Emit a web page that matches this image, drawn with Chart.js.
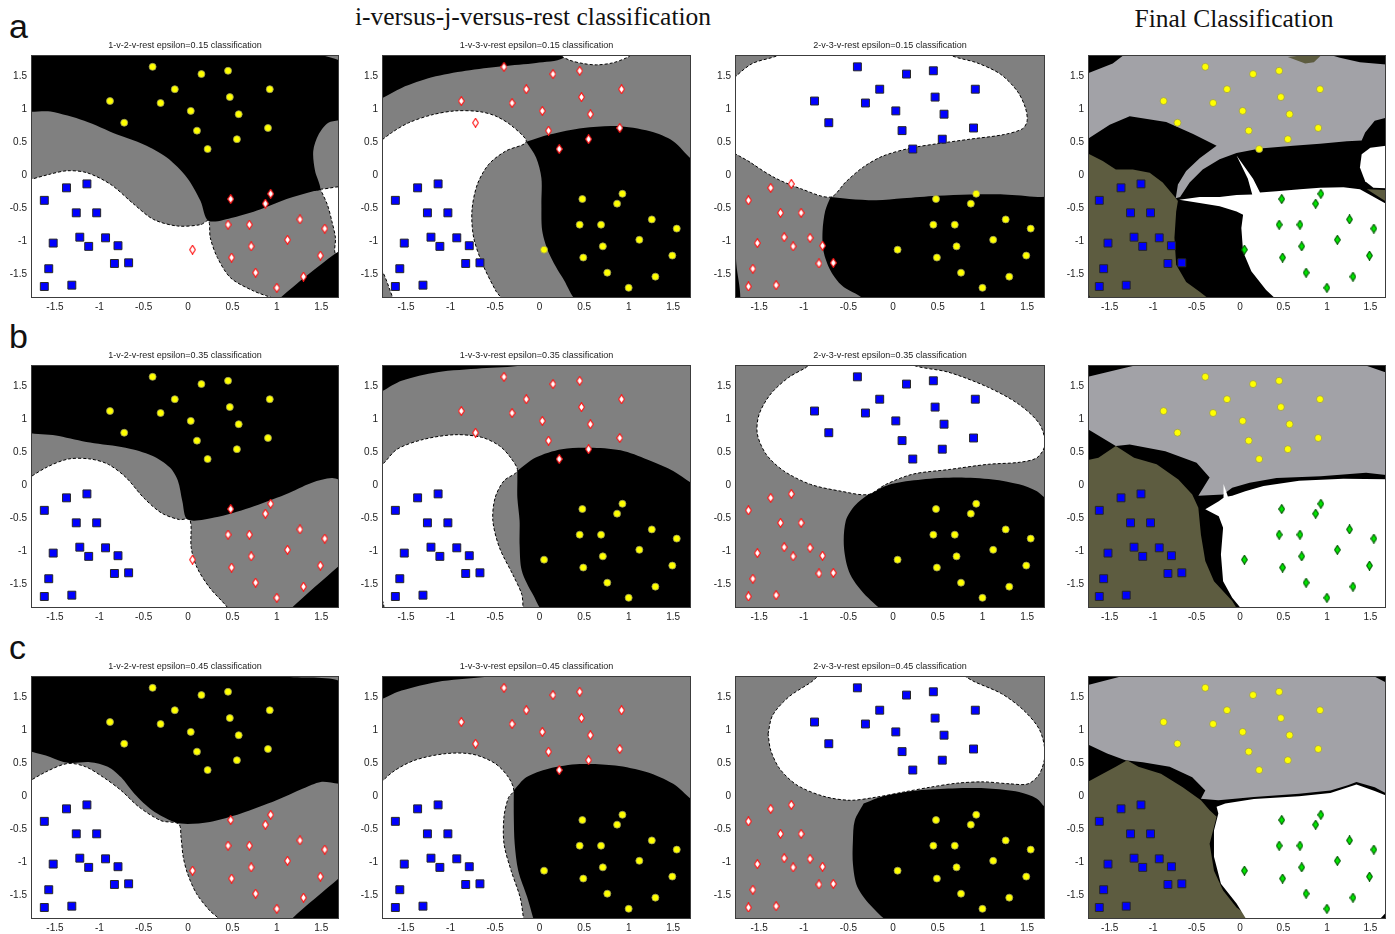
<!DOCTYPE html>
<html>
<head>
<meta charset="utf-8">
<script src="https://cdn.jsdelivr.net/npm/chart.js@4.4.1/dist/chart.umd.min.js"></script>
<style>
  body { margin: 0; background: #fff; width: 1395px; height: 934px; position: relative; overflow: hidden; }
  .head { position: absolute; font-family: 'Liberation Serif', 'Times New Roman', serif; font-size: 25.5px; line-height: 25.5px; color: #111; transform: translateX(-50%); white-space: nowrap; }
  .rowlabel { position: absolute; font-family: 'Liberation Sans', Arial, sans-serif; font-size: 34px; line-height: 34px; color: #111; }
</style>
</head>
<body>
<div class="head" style="left:533px; top:4px">i-versus-j-versus-rest classification</div>
<div class="head" style="left:1234px; top:6px">Final Classification</div>
<div id="labels"></div>
<script>
// --- data ---------------------------------------------------------------

// the three point clusters (same 45 samples in every panel)
const clusterTop = [
  [-0.40, 1.65], [0.15, 1.54], [0.45, 1.59], [-0.15, 1.31], [0.92, 1.31],
  [-0.88, 1.13], [-0.31, 1.10], [0.03, 0.98], [0.47, 1.19], [0.57, 0.93],
  [-0.72, 0.80], [0.10, 0.68], [0.90, 0.72], [0.55, 0.55], [0.22, 0.40]
];
const clusterLeft = [
  [-1.14, -0.13], [-1.37, -0.19], [-1.62, -0.38], [-1.26, -0.57], [-1.03, -0.57],
  [-1.52, -1.03], [-1.22, -0.94], [-1.12, -1.08], [-0.93, -0.95], [-0.79, -1.07],
  [-0.83, -1.34], [-0.67, -1.33], [-1.57, -1.42], [-1.62, -1.69], [-1.31, -1.67]
];
const clusterRight = [
  [0.48, -0.36], [0.93, -0.28], [0.87, -0.43], [0.45, -0.75], [0.69, -0.75],
  [1.26, -0.67], [1.54, -0.81], [1.12, -0.98], [0.71, -1.08], [0.05, -1.13],
  [0.49, -1.25], [1.49, -1.22], [0.76, -1.48], [1.30, -1.54], [1.00, -1.71]
];

const tickValues = [-1.5, -1, -0.5, 0, 0.5, 1, 1.5];
const tickLabels = ['-1.5', '-1', '-0.5', '0', '0.5', '1', '1.5'];

const pairNames = ['1-v-2-v-rest', '1-v-3-v-rest', '2-v-3-v-rest'];
const epsilons = ['0.15', '0.35', '0.45'];
const rowLetters = ['a', 'b', 'c'];

// decision regions, outlines in data units
const a1White = [[-1.9,-0.11],[-1.55,0.02],[-1.36,0.07],[-1.14,0.04],[-0.87,-0.14],[-0.61,-0.44],[-0.39,-0.67],[-0.12,-0.77],[0.14,-0.75],[0.23,-0.69],[0.25,-0.95],[0.33,-1.25],[0.48,-1.56],[0.74,-1.76],[1.08,-1.95],[-1.9,-1.95]];
const a1WhiteEdge = [[1.49,-0.21],[1.8,-0.21],[1.8,-1.15],[1.66,-1.19],[1.66,-0.95],[1.62,-0.70],[1.57,-0.45]];
const a1Black = [[-1.9,1.95],[0.63,1.95],[1.8,1.68],[1.8,0.90],[1.58,0.80],[1.47,0.62],[1.41,0.37],[1.43,0.07],[1.49,-0.21],[1.41,-0.24],[1.11,-0.36],[0.81,-0.52],[0.51,-0.64],[0.23,-0.69],[0.14,-0.39],[-0.01,-0.04],[-0.24,0.27],[-0.50,0.47],[-0.80,0.62],[-1.17,0.83],[-1.55,0.97],[-1.9,1.02]];
const a1Corner = [[1.0,-1.95],[1.04,-1.86],[1.66,-1.19],[1.8,-1.12],[1.8,-1.95]];

const a2Black = [[-1.9,1.95],[0.24,1.95],[0.26,1.78],[-0.04,1.71],[-0.42,1.66],[-0.83,1.59],[-1.21,1.49],[-1.55,1.33],[-1.79,1.16],[-1.9,1.10]];
const a2WhiteTop = [[0.20,1.95],[0.22,1.84],[0.34,1.75],[0.49,1.70],[0.64,1.68],[0.82,1.71],[0.98,1.79],[1.03,1.84],[1.05,1.95]];
const a2White = [[-1.9,0.40],[-1.66,0.65],[-1.47,0.80],[-1.21,0.92],[-0.95,0.98],[-0.68,0.97],[-0.49,0.90],[-0.31,0.75],[-0.15,0.51],[-0.38,0.37],[-0.57,0.17],[-0.70,-0.14],[-0.76,-0.54],[-0.74,-0.95],[-0.64,-1.35],[-0.49,-1.76],[-0.40,-1.95],[-1.62,-1.95],[-1.64,-1.89],[-1.79,-1.40],[-1.9,-1.35]];
const a2BlackRight = [[-0.15,0.51],[0.11,0.62],[0.49,0.72],[0.86,0.75],[1.24,0.67],[1.50,0.52],[1.71,0.24],[1.8,0.18],[1.8,-1.95],[0.47,-1.95],[0.26,-1.56],[0.11,-1.20],[0.03,-0.85],[0.02,-0.44],[0.02,-0.04],[-0.04,0.27]];

const a3White = [[-1.9,1.33],[-1.59,1.69],[-1.28,1.83],[-1.22,1.95],[0.60,1.95],[0.64,1.83],[0.94,1.71],[1.20,1.54],[1.39,1.28],[1.48,1.03],[1.50,0.83],[1.45,0.71],[1.24,0.62],[0.86,0.55],[0.49,0.48],[0.18,0.41],[-0.12,0.29],[-0.34,0.12],[-0.53,-0.10],[-0.70,-0.33],[-1.02,-0.21],[-1.32,-0.04],[-1.59,0.19],[-1.9,0.50]];
const a3Black = [[-0.70,-0.33],[-0.49,-0.36],[-0.19,-0.38],[0.11,-0.35],[0.49,-0.31],[0.86,-0.29],[1.24,-0.29],[1.62,-0.33],[1.8,-0.36],[1.8,-1.95],[-0.25,-1.95],[-0.38,-1.83],[-0.57,-1.68],[-0.70,-1.45],[-0.78,-1.15],[-0.79,-0.85],[-0.76,-0.54]];
const a3Sliver = [[-1.9,-0.85],[-1.785,-0.90],[-1.755,-1.35],[-1.72,-1.95],[-1.9,-1.95]];

const a4Gray = [[-1.85,1.50],[-1.465,1.70],[-1.22,1.95],[1.8,1.95],[1.8,0.92],[1.55,0.83],[1.44,0.65],[1.40,0.53],[1.23,0.52],[0.92,0.48],[0.61,0.45],[0.23,0.41],[-0.04,0.34],[-0.235,0.245],[-0.43,0.09],[-0.58,-0.11],[-0.69,-0.33],[-0.74,-0.35],[-0.715,-0.14],[-0.62,0.066],[-0.465,0.26],[-0.27,0.45],[-0.54,0.63],[-0.85,0.81],[-1.27,0.90],[-1.50,0.77],[-1.85,0.47]];
const a4Olive = [[-1.85,0.40],[-1.58,0.22],[-1.43,0.09],[-1.235,0.09],[-1.04,0.04],[-0.89,-0.11],[-0.75,-0.33],[-0.715,-0.39],[-0.735,-0.55],[-0.755,-0.95],[-0.735,-1.36],[-0.62,-1.62],[-0.465,-1.77],[-0.29,-1.95],[-1.70,-1.95],[-1.85,-1.45]];
const a4OliveTop = [[0.55,1.80],[0.96,1.86],[0.85,1.72],[0.75,1.70]];
const a4BlackTop = [[0.96,1.95],[1.8,1.95],[1.8,1.67],[1.38,1.72],[1.15,1.79],[0.96,1.86]];
const a4White = [[-0.70,-0.37],[-0.465,-0.33],[-0.235,-0.33],[-0.04,-0.30],[0.14,-0.29],[0.09,-0.05],[-0.04,0.30],[0.15,-0.05],[0.23,-0.26],[0.42,-0.24],[0.69,-0.21],[0.92,-0.19],[1.19,-0.18],[1.38,-0.21],[1.8,-0.52],[1.8,-1.95],[0.47,-1.95],[0.30,-1.745],[0.13,-1.46],[0.035,-1.16],[0.015,-0.80],[0.035,-0.60],[-0.04,-0.55],[-0.235,-0.47],[-0.465,-0.42]];
const a4WhiteEdge = [[1.8,0.47],[1.50,0.42],[1.40,0.32],[1.38,0.12],[1.44,-0.09],[1.535,-0.19],[1.8,-0.20]];
const a4OliveEdge = [[1.46,-0.21],[1.8,-0.23],[1.8,-0.50]];

const b1White = [[-1.9,0.02],[-1.6,0.27],[-1.35,0.40],[-1.10,0.40],[-0.90,0.32],[-0.70,0.12],[-0.50,-0.19],[-0.30,-0.42],[-0.10,-0.52],[0.02,-0.52],[0.035,-0.95],[0.10,-1.25],[0.245,-1.56],[0.445,-1.86],[0.46,-1.95],[-1.9,-1.95]];
const b1Black = [[-1.9,1.95],[1.0,1.95],[1.045,1.83],[1.8,1.72],[1.8,0.08],[1.62,0.11],[1.395,0.04],[1.095,-0.14],[0.695,-0.34],[0.295,-0.49],[-0.005,-0.52],[-0.065,-0.24],[-0.115,0.07],[-0.205,0.27],[-0.405,0.45],[-0.705,0.57],[-1.105,0.65],[-1.455,0.75],[-1.9,0.88]];
const b1Corner = [[1.12,-1.95],[1.145,-1.89],[1.695,-1.23],[1.8,-1.12],[1.8,-1.95]];

const b2Black = [[-1.9,1.95],[-0.15,1.95],[-0.2,1.83],[-0.65,1.78],[-1.15,1.72],[-1.55,1.59],[-1.9,1.38]];
const b2White = [[-1.9,0.22],[-1.765,0.32],[-1.6,0.55],[-1.3,0.70],[-0.95,0.77],[-0.65,0.73],[-0.45,0.60],[-0.325,0.42],[-0.25,0.22],[-0.40,0.07],[-0.5,-0.19],[-0.525,-0.54],[-0.45,-0.95],[-0.30,-1.36],[-0.2,-1.66],[-0.185,-1.89],[-0.18,-1.95],[-1.72,-1.95],[-1.765,-1.76],[-1.9,-1.7]];
const b2BlackRight = [[-0.25,0.22],[-0.05,0.42],[0.25,0.55],[0.60,0.57],[0.95,0.52],[1.25,0.37],[1.50,0.22],[1.70,0.04],[1.8,-0.05],[1.8,-1.95],[0.08,-1.95],[-0.075,-1.66],[-0.2,-1.30],[-0.225,-0.90],[-0.225,-0.54],[-0.25,-0.19],[-0.25,0.07]];

const b3White = [[-0.975,1.79],[-0.85,1.95],[0.2,1.95],[0.22,1.83],[0.62,1.72],[1.065,1.49],[1.41,1.23],[1.64,0.93],[1.70,0.62],[1.61,0.42],[1.41,0.35],[1.065,0.32],[0.62,0.24],[0.22,0.17],[-0.08,0.015],[-0.28,-0.14],[-0.58,-0.09],[-0.925,0.015],[-1.225,0.22],[-1.42,0.47],[-1.52,0.78],[-1.50,1.08],[-1.37,1.39],[-1.17,1.64]];
const b3Black = [[-0.28,-0.14],[-0.03,0.015],[0.32,0.09],[0.72,0.12],[1.115,0.09],[1.41,0.015],[1.61,-0.09],[1.70,-0.19],[1.8,-0.25],[1.8,-1.95],[-0.02,-1.95],[-0.28,-1.71],[-0.48,-1.355],[-0.55,-0.95],[-0.53,-0.54],[-0.43,-0.31]];

const b4Gray = [[-1.85,1.62],[-1.32,1.79],[-0.78,1.95],[1.17,1.95],[1.8,1.66],[1.8,0.14],[1.45,0.19],[0.93,0.14],[0.42,0.11],[0.11,0.04],[-0.09,-0.035],[-0.195,-0.14],[-0.48,-0.16],[-0.35,0.12],[-0.50,0.345],[-0.86,0.52],[-1.27,0.62],[-1.43,0.60],[-1.85,0.93]];
const b4Olive = [[-1.85,0.36],[-1.63,0.42],[-1.43,0.60],[-1.22,0.42],[-0.96,0.32],[-0.71,0.09],[-0.55,-0.14],[-0.48,-0.34],[-0.45,-0.75],[-0.40,-1.15],[-0.30,-1.46],[-0.09,-1.76],[0.0,-1.95],[-1.85,-1.95]];
const b4White = [[-0.40,-0.365],[-0.245,-0.24],[-0.19,-0.19],[-0.19,0.02],[-0.14,-0.17],[-0.09,-0.16],[0.06,-0.09],[0.27,-0.01],[0.68,0.07],[1.19,0.10],[1.8,0.09],[1.8,-1.95],[0.06,-1.95],[-0.09,-1.71],[-0.195,-1.46],[-0.22,-1.05],[-0.195,-0.645],[-0.245,-0.47]];

const c1Black = [[-1.9,1.95],[0.98,1.95],[0.995,1.84],[1.8,1.67],[1.8,0.23],[1.495,0.22],[1.295,0.12],[0.995,-0.06],[0.595,-0.26],[0.245,-0.39],[-0.005,-0.42],[-0.155,-0.39],[-0.405,-0.21],[-0.605,0.04],[-0.755,0.29],[-0.905,0.45],[-1.105,0.52],[-1.355,0.51],[-1.555,0.60],[-1.9,0.80]];
const c1White = [[-1.9,0.14],[-1.605,0.37],[-1.355,0.50],[-1.155,0.45],[-0.955,0.29],[-0.755,0.09],[-0.555,-0.16],[-0.305,-0.37],[-0.105,-0.42],[-0.08,-0.62],[-0.055,-0.92],[-0.005,-1.18],[0.095,-1.48],[0.245,-1.74],[0.345,-1.86],[0.37,-1.95],[-1.9,-1.95]];
const c1Corner = [[1.14,-1.95],[1.17,-1.86],[1.695,-1.25],[1.8,-1.13],[1.8,-1.95]];

const c2Black = [[-1.9,1.95],[-0.3,1.95],[-0.35,1.84],[-0.65,1.81],[-1.15,1.74],[-1.55,1.61],[-1.9,1.45]];
const c2White = [[-1.9,0.05],[-1.65,0.37],[-1.40,0.55],[-1.05,0.65],[-0.75,0.64],[-0.50,0.50],[-0.35,0.29],[-0.29,0.09],[-0.35,-0.02],[-0.40,-0.31],[-0.40,-0.72],[-0.32,-1.13],[-0.22,-1.53],[-0.18,-1.86],[-0.17,-1.95],[-1.9,-1.95]];
const c2BlackRight = [[-0.29,0.09],[-0.15,0.29],[0.10,0.42],[0.45,0.49],[0.85,0.47],[1.20,0.37],[1.50,0.19],[1.70,-0.04],[1.8,-0.12],[1.8,-1.95],[-0.05,-1.95],[-0.07,-1.86],[-0.14,-1.53],[-0.24,-1.13],[-0.28,-0.72],[-0.29,-0.31]];

const c3Black = [[-0.33,-0.11],[-0.08,0.015],[0.27,0.09],[0.665,0.12],[1.065,0.12],[1.41,0.066],[1.61,-0.035],[1.70,-0.16],[1.8,-0.2],[1.8,-1.95],[0.03,-1.95],[-0.23,-1.69],[-0.40,-1.38],[-0.45,-1.03],[-0.45,-0.67],[-0.43,-0.37]];
const c3White = [[-1.40,0.95],[-1.35,1.23],[-1.17,1.51],[-0.925,1.73],[-0.70,1.95],[0.60,1.95],[0.915,1.74],[1.215,1.56],[1.46,1.31],[1.64,1.01],[1.70,0.65],[1.64,0.345],[1.51,0.19],[1.31,0.19],[1.015,0.22],[0.715,0.20],[0.42,0.14],[0.12,0.066],[-0.18,-0.01],[-0.48,-0.06],[-0.775,0.0],[-1.075,0.17],[-1.27,0.42],[-1.37,0.70]];

const c4Gray = [[-1.85,1.66],[-1.32,1.84],[-1.28,1.95],[1.36,1.95],[1.8,1.65],[1.8,0.0],[1.69,0.04],[1.55,0.14],[1.34,0.22],[1.24,0.17],[1.04,0.09],[0.68,0.04],[0.16,-0.01],[-0.25,-0.06],[-0.45,-0.035],[-0.40,0.09],[-0.55,0.29],[-0.81,0.45],[-1.12,0.52],[-1.32,0.55],[-1.53,0.65],[-1.85,0.85]];
const c4Olive = [[-1.85,0.15],[-1.58,0.345],[-1.43,0.45],[-1.30,0.55],[-1.17,0.45],[-0.91,0.345],[-0.66,0.14],[-0.45,-0.06],[-0.35,-0.21],[-0.27,-0.31],[-0.35,-0.72],[-0.30,-1.13],[-0.195,-1.43],[-0.04,-1.69],[0.14,-1.86],[0.16,-1.95],[-1.85,-1.95]];
const c4White = [[-0.27,-0.16],[-0.17,-0.11],[0.16,-0.04],[0.68,0.0],[1.04,0.05],[1.34,0.18],[1.55,0.08],[1.8,-0.05],[1.8,-1.6],[1.55,-1.95],[0.11,-1.95],[-0.04,-1.63],[-0.22,-1.33],[-0.30,-0.92],[-0.30,-0.52],[-0.25,-0.26]];

// --- layout / styling ------------------------------------------------------

const rowTops = [55, 365, 676];
const colLefts = [31, 382, 735, 1088];
const colWidths = [308, 309, 310, 298];
const plotH = 243;
const axisW = 30, axisH = 17, titleH = 15;

const FONT = "'Liberation Sans', Arial, Helvetica, sans-serif";
const regionColors = { W: '#ffffff', K: '#000000', L: '#a2a2a7', O: '#5d5c40' };

function diamond(fill, stroke, w, h) {
  const c = document.createElement('canvas');
  c.width = w; c.height = h;
  const g = c.getContext('2d');
  g.beginPath();
  g.moveTo(w / 2, 0.6); g.lineTo(w - 0.6, h / 2); g.lineTo(w / 2, h - 0.6); g.lineTo(0.6, h / 2);
  g.closePath();
  g.fillStyle = fill; g.fill();
  g.lineWidth = 1.1; g.strokeStyle = stroke; g.stroke();
  return c;
}

const markStyles = {
  square: { pointStyle: 'rect', pointRadius: 5.6, backgroundColor: '#0000ff', borderColor: '#262626', borderWidth: 1 },
  circle: { pointStyle: 'circle', pointRadius: 3.5, backgroundColor: '#ffff00', borderColor: '#9b9b55', borderWidth: 0.8 },
  redDiamond: { pointStyle: diamond('#ffffff', '#ff1010', 7, 10), pointRadius: 4 },
  greenDiamond: { pointStyle: diamond('#00e600', '#005a00', 7, 10), pointRadius: 4 }
};

const markSets = [
  [[clusterLeft, 'square'], [clusterRight, 'redDiamond'], [clusterTop, 'circle']],
  [[clusterLeft, 'square'], [clusterTop, 'redDiamond'], [clusterRight, 'circle']],
  [[clusterTop, 'square'], [clusterLeft, 'redDiamond'], [clusterRight, 'circle']],
  [[clusterTop, 'circle'], [clusterLeft, 'square'], [clusterRight, 'greenDiamond']]
];

const panelLayers = [
  [[[a1White, 'W'], [a1WhiteEdge, 'W'], [a1Black, 'K'], [a1Corner, 'K']],
   [[a2Black, 'K'], [a2WhiteTop, 'W'], [a2White, 'W'], [a2BlackRight, 'K']],
   [[a3White, 'W'], [a3Black, 'K'], [a3Sliver, 'K']],
   [[a4Gray, 'L'], [a4Olive, 'O'], [a4OliveTop, 'O'], [a4BlackTop, 'K'], [a4White, 'W'], [a4WhiteEdge, 'W'], [a4OliveEdge, 'O']]],
  [[[b1White, 'W'], [b1Black, 'K'], [b1Corner, 'K']],
   [[b2Black, 'K'], [b2White, 'W'], [b2BlackRight, 'K']],
   [[b3Black, 'K'], [b3White, 'W']],
   [[b4Gray, 'L'], [b4Olive, 'O'], [b4White, 'W']]],
  [[[c1White, 'W'], [c1Black, 'K'], [c1Corner, 'K']],
   [[c2Black, 'K'], [c2White, 'W'], [c2BlackRight, 'K']],
   [[c3Black, 'K'], [c3White, 'W']],
   [[c4Gray, 'L'], [c4Olive, 'O'], [c4White, 'W']]]
];

const plotFrame = {
  id: 'plotFrame',
  beforeDatasetsDraw(chart, args, opts) {
    const { ctx, chartArea: a } = chart;
    ctx.save();
    ctx.fillStyle = opts.color;
    ctx.fillRect(a.left, a.top, a.right - a.left, a.bottom - a.top);
    ctx.restore();
  },
  afterDatasetsDraw(chart) {
    const { ctx, chartArea: a } = chart;
    ctx.save();
    ctx.strokeStyle = '#3c3c3c';
    ctx.lineWidth = 1;
    ctx.strokeRect(a.left + 0.5, a.top + 0.5, a.right - a.left - 1, a.bottom - a.top - 1);
    ctx.restore();
  }
};

const toXY = list => list.map(([x, y]) => ({ x, y }));

function regionDataset(poly, key, smooth) {
  return {
    type: 'line',
    data: toXY(poly.concat([poly[0]])),
    fill: 'shape',
    backgroundColor: regionColors[key],
    borderColor: '#000',
    borderWidth: smooth && key === 'W' ? 1 : 0,
    borderDash: [3, 2],
    pointRadius: 0,
    tension: smooth ? 0.3 : 0,
    clip: 0
  };
}

function axis(min, max, isX) {
  return {
    type: 'linear',
    min, max,
    grid: { display: false, drawTicks: false },
    border: { display: false },
    afterBuildTicks: s => { s.ticks = tickValues.map(v => ({ value: v })); },
    afterFit: s => { if (isX) s.height = axisH; else s.width = axisW; },
    ticks: {
      color: '#222',
      padding: isX ? 3 : 4,
      font: { family: FONT, size: 10 },
      callback: v => tickLabels[tickValues.indexOf(v)]
    }
  };
}

// empty right-hand axis so the plot (and its title) sits centred in the canvas
const spacerAxis = {
  position: 'right',
  grid: { display: false, drawTicks: false },
  border: { display: false },
  ticks: { display: false },
  afterFit: s => { s.width = axisW; }
};

rowLetters.forEach((t, r) => {
  const d = document.createElement('div');
  d.className = 'rowlabel';
  d.textContent = t;
  d.style.left = '9px';
  d.style.top = (rowTops[r] - 46) + 'px';
  document.getElementById('labels').appendChild(d);
});

for (let r = 0; r < 3; r++) {
  for (let c = 0; c < 4; c++) {
    const final = c === 3;
    const w = colWidths[c] + 2 * axisW;
    const h = titleH + plotH + axisH;
    const canvas = document.createElement('canvas');
    canvas.width = w; canvas.height = h;
    canvas.style.position = 'absolute';
    canvas.style.left = (colLefts[c] - axisW) + 'px';
    canvas.style.top = (rowTops[r] - titleH) + 'px';
    document.body.appendChild(canvas);

    const layered = panelLayers[r][c].map(([poly, key]) => regionDataset(poly, key, !final));
    const marks = markSets[c].map(([pts, style]) => Object.assign({ type: 'scatter', data: toXY(pts) }, markStyles[style]));
    const datasets = layered.concat(marks);
    datasets.forEach((d, i) => { d.order = datasets.length - i; });

    new Chart(canvas, {
      type: 'scatter',
      data: { datasets },
      plugins: [plotFrame],
      options: {
        responsive: false,
        animation: false,
        events: [],
        layout: { padding: { left: 0, right: 0, top: final ? titleH : 0, bottom: 0 } },
        elements: { line: { capBezierPoints: false } },
        plugins: {
          legend: { display: false },
          tooltip: { enabled: false },
          title: {
            display: !final,
            text: final ? '' : pairNames[c] + ' epsilon=' + epsilons[r] + ' classification',
            color: '#222',
            font: { family: FONT, size: 9, weight: 'normal' },
            padding: { top: 0, bottom: titleH - 10.8 }
          },
          plotFrame: { color: final ? '#000000' : '#808080' }
        },
        scales: {
          x: axis(final ? -1.75 : -1.77, final ? 1.68 : 1.70, true),
          y: axis(-1.865, 1.83, false),
          spacer: spacerAxis
        }
      }
    });
  }
}
</script>
</body>
</html>
